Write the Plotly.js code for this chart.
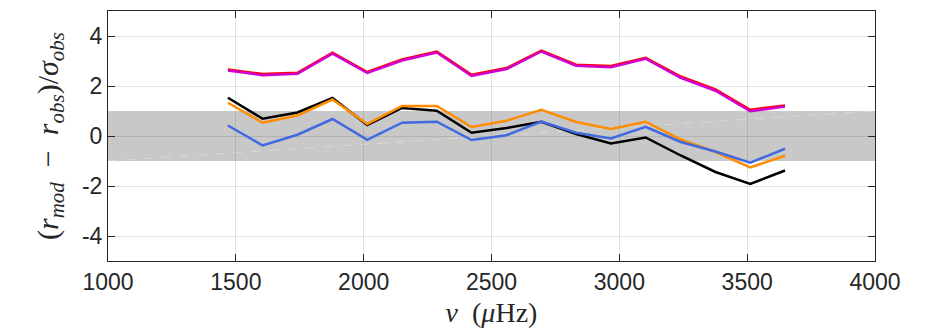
<!DOCTYPE html>
<html>
<head>
<meta charset="utf-8">
<script src="https://cdn.plot.ly/plotly-3.0.1.min.js"></script>
<style>html,body{margin:0;padding:0;background:#fff;}#chart{width:928px;height:328px;}</style>
</head>
<body>
<div id="chart"></div>
<script>
// Frequencies (µHz)
var freq = [1469, 1605, 1741, 1878, 2014, 2150, 2286, 2422, 2559, 2695, 2831, 2967, 3103, 3240, 3376, 3512, 3648];
// Normalised residuals for each model
var redVals     = [2.66, 2.48, 2.53, 3.33, 2.56, 3.06, 3.38, 2.45, 2.72, 3.42, 2.85, 2.80, 3.13, 2.38, 1.86, 1.05, 1.22];
var magentaVals = [2.62, 2.43, 2.49, 3.29, 2.52, 3.02, 3.34, 2.40, 2.68, 3.38, 2.81, 2.75, 3.09, 2.33, 1.81, 0.99, 1.18];
var blackVals   = [1.53, 0.69, 0.94, 1.52, 0.44, 1.12, 1.01, 0.13, 0.32, 0.57, 0.08, -0.30, -0.06, -0.78, -1.44, -1.92, -1.38];
var orangeVals  = [1.33, 0.53, 0.82, 1.46, 0.48, 1.20, 1.20, 0.36, 0.61, 1.05, 0.56, 0.28, 0.57, -0.14, -0.64, -1.26, -0.79];
var blueVals    = [0.42, -0.38, 0.05, 0.68, -0.15, 0.53, 0.57, -0.16, 0.03, 0.58, 0.13, -0.10, 0.37, -0.24, -0.62, -1.07, -0.51];
// Tick labels
var xTickVals = [1000, 1500, 2000, 2500, 3000, 3500, 4000];
var xTickText = ["1000", "1500", "2000", "2500", "3000", "3500", "4000"];
var yTickVals = [-4, -2, 0, 2, 4];
var yTickText = ["-4", "-2", "0", "2", "4"];
// 1-sigma band
var bandLow = -1, bandHigh = 1;
var xRange = [1000, 4000], yRange = [-5, 5];

function line(y, color) {
  return {x: freq, y: y, type: 'scatter', mode: 'lines',
          line: {color: color, width: 2.5}, showlegend: false, hoverinfo: 'x+y'};
}
var traces = [
  line(blackVals, '#000000'),
  line(orangeVals, '#ff8c00'),
  line(blueVals, '#4169e1'),
  line(redVals, '#ff0000'),
  line(magentaVals, '#d000d0')
];

var axisCommon = {
  showline: true, mirror: 'ticks', linecolor: '#262626', linewidth: 1,
  ticks: 'inside', ticklen: 7, tickwidth: 1, tickcolor: '#262626',
  showgrid: true, gridcolor: 'rgba(38,38,38,0.13)', gridwidth: 1,
  zeroline: false,
  tickfont: {family: 'Liberation Sans, Arial, sans-serif', size: 23, color: '#262626'}
};

var layout = {
  width: 928, height: 328,
  margin: {l: 108, r: 53, t: 11, b: 67},
  paper_bgcolor: '#ffffff', plot_bgcolor: 'rgba(0,0,0,0)',
  xaxis: Object.assign({}, axisCommon, {
    range: xRange, tickmode: 'array', tickvals: xTickVals, ticktext: xTickText,
    title: {text: '<i>ν</i>  (<i>μ</i>Hz)', standoff: 8,
            font: {family: 'Liberation Serif, Times New Roman, serif', size: 28, color: '#262626'}}
  }),
  yaxis: Object.assign({}, axisCommon, {
    range: yRange, tickmode: 'array', tickvals: yTickVals, ticktext: yTickText,
    title: {text: '(<i>r</i><sub><i>mod</i></sub>  −  <i>r</i><sub><i>obs</i></sub>)/<i>σ</i><sub><i>obs</i></sub>',
            standoff: 14,
            font: {family: 'Liberation Serif, Times New Roman, serif', size: 30, color: '#262626'}}
  }),
  shapes: [
    {type: 'rect', xref: 'x', yref: 'y', x0: xRange[0], x1: xRange[1], y0: bandLow, y1: bandHigh,
     fillcolor: '#c8c8c8', line: {width: 0}, layer: 'below'},
    {type: 'line', xref: 'x', yref: 'y', x0: xRange[0], x1: xRange[1], y0: bandLow, y1: bandHigh,
     line: {color: 'rgba(255,255,255,0.3)', width: 1, dash: 'dash'}, layer: 'below'}
  ]
};

Plotly.newPlot('chart', traces, layout, {displayModeBar: false, staticPlot: true});
</script>
</body>
</html>
